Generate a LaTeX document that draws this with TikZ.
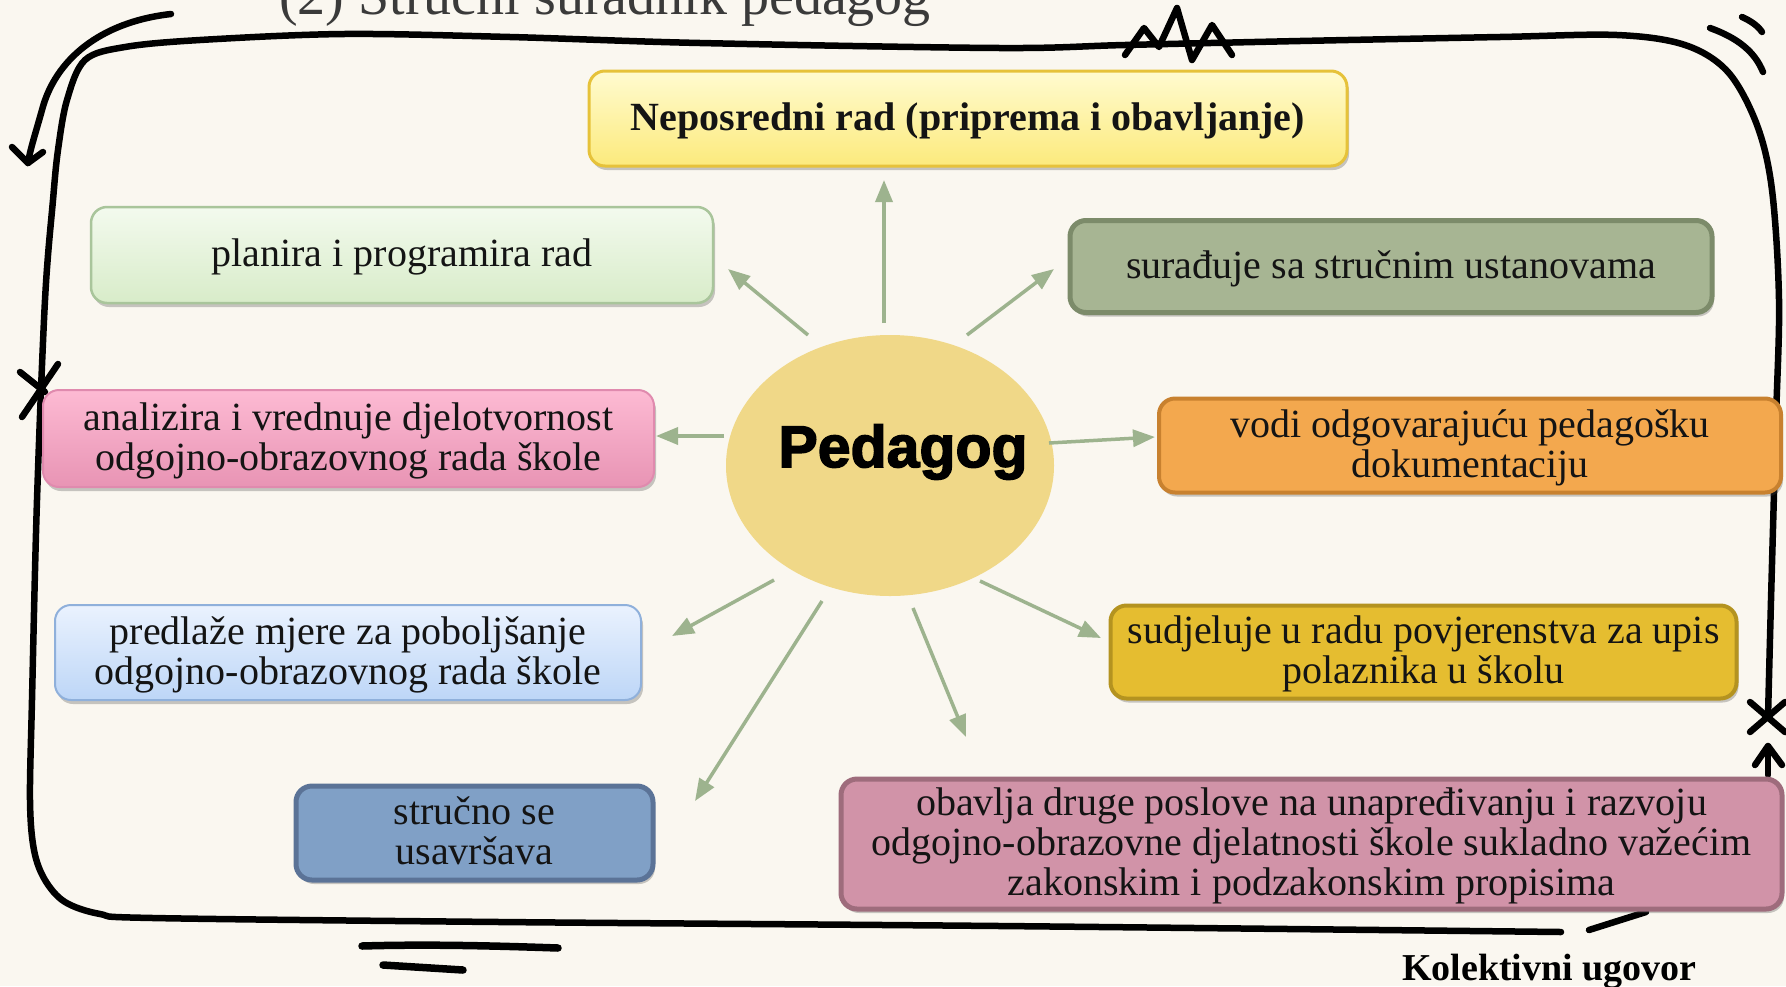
\documentclass[tikz,border=0pt]{standalone}
\usepackage{fontspec}
\setmainfont{Liberation Serif}
\newfontfamily\pedfont{Liberation Sans}[BoldFeatures={FakeBold=2.5}]
\usetikzlibrary{shadows,arrows.meta,shapes.geometric}
\newcommand\bxtext[1]{\vbox{\kern7pt\hbox{\begin{tabular}{@{}c@{}}#1\end{tabular}}}}
\definecolor{bgcol}{HTML}{FAF7F0}
\definecolor{arrgreen}{HTML}{9DB38E}
\definecolor{ellcol}{HTML}{F0D888}
\definecolor{nepT}{HTML}{FFFBD0}
\definecolor{nepB}{HTML}{FCEA7C}
\definecolor{nepD}{HTML}{E6C23A}
\definecolor{plaT}{HTML}{F3FAEE}
\definecolor{plaB}{HTML}{D8ECC9}
\definecolor{plaD}{HTML}{A9C59B}
\definecolor{surF}{HTML}{A7B593}
\definecolor{surD}{HTML}{7C8B6A}
\definecolor{anaT}{HTML}{FDBAD3}
\definecolor{anaB}{HTML}{E894B4}
\definecolor{anaD}{HTML}{E08AAE}
\definecolor{vodF}{HTML}{F3A84E}
\definecolor{vodD}{HTML}{C8812F}
\definecolor{preT}{HTML}{EAF2FE}
\definecolor{preB}{HTML}{BDD6F7}
\definecolor{preD}{HTML}{8FB0DB}
\definecolor{sudF}{HTML}{E5BD30}
\definecolor{sudD}{HTML}{B49320}
\definecolor{strF}{HTML}{80A0C6}
\definecolor{strD}{HTML}{5B7397}
\definecolor{obaF}{HTML}{D193A8}
\definecolor{obaD}{HTML}{9E6C7C}
\definecolor{titlegray}{HTML}{3A3A3A}
\begin{document}
\begin{tikzpicture}[x=1pt,y=-1pt,
  box/.style={rounded corners=16pt, inner sep=0pt, text=black!92,
    font=\fontsize{40}{40}\selectfont,
    drop shadow={shadow xshift=2pt, shadow yshift=-4pt, opacity=0.3, fill=black!70}},
  arr/.style={draw=arrgreen, line width=3.5pt, -{Triangle[length=22pt,width=17pt]}},
  frame/.style={line width=6.5pt, line cap=round, line join=round, draw=black}]
\useasboundingbox (0,0) rectangle (1786,986);
\fill[bgcol] (0,0) rectangle (1786,986);

% title (cut off at top)
\node[font=\fontsize{56}{60}\selectfont, text=titlegray, anchor=base west, inner sep=0pt] (title) at (279,14) {(2) Stručni suradnik pedagog};

% frame
\draw[frame] plot[smooth, tension=0.55] coordinates {(1768,717) (1771,600) (1776,420) (1779,300) (1772,190) (1757,125) (1728,72) (1685,45) (1617,35) (1500,37) (1300,41) (1125,45) (1000,48) (700,43) (510,37) (344,34) (200,40) (125,47) (85,60) (67,100) (58,150) (53,200) (45,300) (37,500) (32,700) (30,800) (34,850) (45,880) (65,902) (100,914) (153,918) (500,922) (1000,926) (1561,932)};
\draw[frame] (1125,55) -- (1144,28) -- (1159,47) -- (1177,8) -- (1192,60) -- (1212,25) -- (1232,55);
\draw[frame] (1710,28) .. controls (1738,38) and (1755,52) .. (1763,72);
\draw[frame] (1742,17) .. controls (1751,21) and (1758,26) .. (1762,32);
\draw[frame] (171,14) .. controls (100,22) and (55,60) .. (42,110) .. controls (35,135) and (30,150) .. (28,163);
\draw[frame] (12,147) -- (28,163) -- (43,152);
% left X
\draw[frame] (20,372) -- (45,392);
\draw[frame] (58,364) -- (22,417);
% right X
\draw[frame] (1750,702) -- (1785,732);
\draw[frame] (1785,702) -- (1750,732);
% right small arrow
\draw[frame] (1768,775) -- (1768,746);
\draw[frame] (1755,765) -- (1768,746) -- (1782,765);
% bottom strokes
\draw[frame] (1589,930) -- (1646,912);
\draw[frame, line width=7.5pt] (362,946) .. controls (430,944) and (500,946) .. (558,948);
\draw[frame, line width=7.5pt] (383,965) -- (463,970);

% boxes
\node[box, top color=nepT, bottom color=nepB, draw=nepD, line width=3pt, minimum width=758pt, minimum height=95pt] (nep) at (968,118.5) {\bxtext{\textbf{Neposredni rad (priprema i obavljanje)}}};
\node[box, top color=plaT, bottom color=plaB, draw=plaD, line width=2.5pt, minimum width=622pt, minimum height=96pt] (pla) at (402,255) {\bxtext{planira i programira rad}};
\node[box, fill=surF, draw=surD, line width=5pt, minimum width=642pt, minimum height=92pt] (sur) at (1391,266.5) {\bxtext{surađuje sa stručnim ustanovama}};
\node[box, top color=anaT, bottom color=anaB, draw=anaD, line width=2pt, minimum width=611pt, minimum height=97pt] (ana) at (348.5,438.5) {\bxtext{analizira i vrednuje djelotvornost\\odgojno-obrazovnog rada škole}};
\node[box, fill=vodF, draw=vodD, line width=4pt, minimum width=622pt, minimum height=94pt] (vod) at (1470,445.5) {\bxtext{vodi odgovarajuću pedagošku\\dokumentaciju}};
\node[box, top color=preT, bottom color=preB, draw=preD, line width=2pt, minimum width=586pt, minimum height=95pt] (pre) at (348,652.5) {\bxtext{predlaže mjere za poboljšanje\\odgojno-obrazovnog rada škole}};
\node[box, fill=sudF, draw=sudD, line width=4pt, minimum width=626pt, minimum height=93pt] (sud) at (1423.5,652) {\bxtext{sudjeluje u radu povjerenstva za upis\\polaznika u školu}};
\node[box, fill=strF, draw=strD, line width=5pt, minimum width=357pt, minimum height=94pt] (str) at (474.5,833) {\bxtext{stručno se\\usavršava}};
\node[box, fill=obaF, draw=obaD, line width=5pt, minimum width=941pt, minimum height=130pt] (oba) at (1311.5,844) {\bxtext{obavlja druge poslove na unapređivanju i razvoju\\odgojno-obrazovne djelatnosti škole sukladno važećim\\zakonskim i podzakonskim propisima}};

% centre
\node[ellipse, fill=ellcol, minimum width=328pt, minimum height=261pt, inner sep=0pt] (ped) at (890,465.5) {};
\node[font=\pedfont\bfseries\fontsize{59}{60}\selectfont, inner sep=0pt] (pedtxt) at (903,452) {Pedagog};

% arrows
\coordinate (a1s) at (884,323);  \coordinate (a1e) at (884,180);
\coordinate (a2s) at (808,335);  \coordinate (a2e) at (728,269);
\coordinate (a3s) at (967,335);  \coordinate (a3e) at (1054,269);
\coordinate (a4s) at (724,436);  \coordinate (a4e) at (656,436);
\coordinate (a5s) at (1049,443); \coordinate (a5e) at (1155,437);
\coordinate (a6s) at (774,580);  \coordinate (a6e) at (672,636);
\coordinate (a7s) at (822,601);  \coordinate (a7e) at (695,801);
\coordinate (a8s) at (913,608);  \coordinate (a8e) at (966,737);
\coordinate (a9s) at (980,581);  \coordinate (a9e) at (1101,638);
\foreach \i in {1,...,9} {\draw[arr] (a\i s) -- (a\i e);}

% footer
\node[font=\bfseries\fontsize{38}{40}\selectfont, anchor=base west, inner sep=0pt] (kol) at (1402,980) {Kolektivni ugovor};
\end{tikzpicture}
\end{document}
